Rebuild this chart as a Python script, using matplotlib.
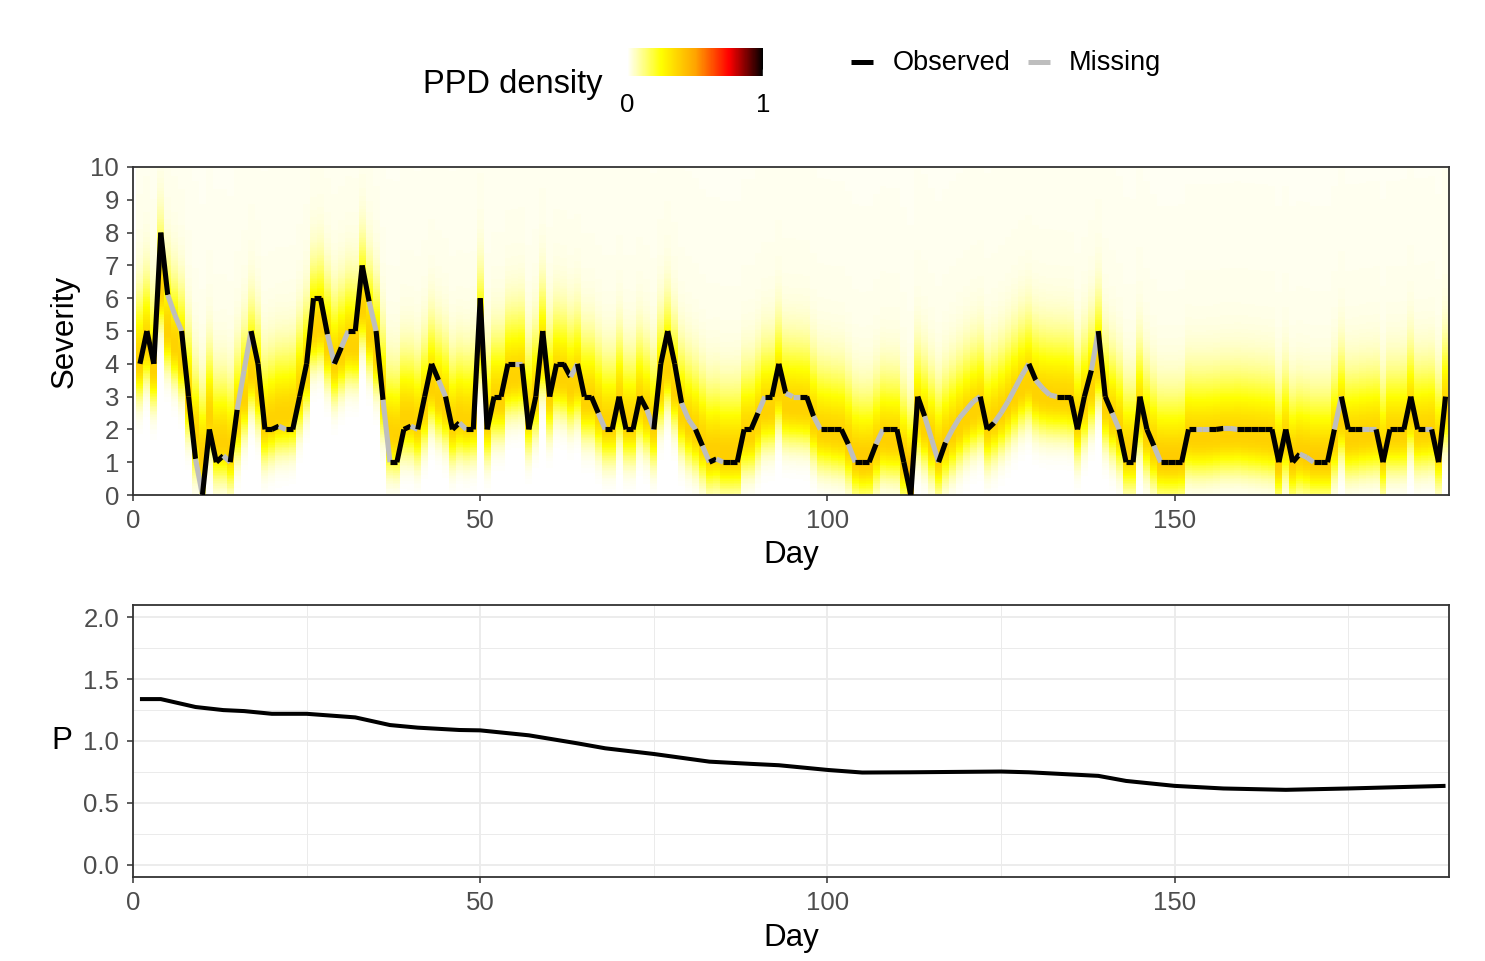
import numpy as np
import matplotlib
matplotlib.use("Agg")
import matplotlib.pyplot as plt
from matplotlib.colors import LinearSegmentedColormap, Normalize
from matplotlib.cm import ScalarMappable
from matplotlib.lines import Line2D
from matplotlib.collections import LineCollection
from matplotlib.ticker import MultipleLocator

plt.rcParams['font.family'] = ['Liberation Sans', 'DejaVu Sans']

# ---------------- data ----------------
days = np.arange(1, 190)
severity = [
    4, 5, 4, 8, 6.1, 5.5, 5, 3, 1.1, 0,
    2, 1, 1.2, 1, 2.6, 3.8, 5, 4, 2, 2,
    2.1, 2, 2, 3, 4, 6, 6, 4.9, 4, 4.5,
    5, 5, 7, 5.9, 5, 2.9, 1, 1, 2, 2.1,
    2, 3, 4, 3.5, 3, 2, 2.2, 2, 2, 6,
    2, 3, 3, 4, 4.0, 4, 2, 3, 5, 3,
    4, 4, 3.6, 4, 3, 3, 2.5, 2, 2, 3,
    2, 2, 3, 2.6, 2, 4, 5, 4, 2.8, 2.3,
    2, 1.5, 1, 1.1, 1, 1, 1, 2, 2, 2.5,
    3, 3, 4, 3.1, 3.0, 3, 3, 2.4, 2, 2,
    2, 2, 1.55, 1, 1, 1, 1.55, 2, 2, 2,
    1, 0, 3, 2.4, 1.7, 1, 1.6, 2.0, 2.35, 2.6,
    2.85, 3, 2, 2.2, 2.5, 2.85, 3.25, 3.65, 4, 3.5,
    3.25, 3.05, 3, 3, 3, 2, 3, 3.8, 5, 3,
    2.5, 2, 1, 1, 3, 2, 1.5, 1, 1, 1,
    1, 2, 2.0, 2.0, 2, 2, 2.03, 2.03, 2, 2,
    2, 2, 2, 2, 1, 2, 1, 1.25, 1.15, 1,
    1, 1, 2.0, 3, 2, 2, 2.0, 2.0, 2, 1,
    2, 2, 2, 3, 2, 2.0, 2, 1, 3,
]
observed = [
    1, 1, 1, 1, 0, 0, 1, 1, 0, 1,
    1, 1, 0, 1, 0, 0, 1, 1, 1, 1,
    0, 1, 1, 1, 1, 1, 1, 0, 1, 0,
    1, 1, 1, 0, 1, 0, 1, 1, 1, 0,
    1, 1, 1, 0, 1, 1, 0, 1, 1, 1,
    1, 1, 1, 1, 0, 1, 1, 1, 1, 1,
    1, 1, 0, 1, 1, 1, 0, 1, 1, 1,
    1, 1, 1, 0, 1, 1, 1, 1, 0, 0,
    1, 0, 1, 0, 1, 1, 1, 1, 1, 0,
    1, 1, 1, 0, 0, 1, 1, 0, 1, 1,
    1, 1, 0, 1, 1, 1, 0, 1, 1, 1,
    1, 1, 1, 0, 0, 1, 0, 0, 0, 0,
    0, 1, 1, 0, 0, 0, 0, 0, 1, 0,
    0, 0, 1, 1, 1, 1, 1, 0, 1, 1,
    0, 1, 1, 1, 1, 1, 0, 1, 1, 1,
    1, 1, 0, 0, 1, 1, 0, 0, 1, 1,
    1, 1, 1, 1, 1, 1, 1, 0, 0, 1,
    1, 1, 0, 1, 1, 1, 0, 0, 1, 1,
    1, 1, 1, 1, 1, 0, 1, 1, 1,
]
p_days = [1, 4, 9, 13, 16, 20, 25, 32, 37, 41, 47, 50, 57, 64, 68, 75, 83, 89,
          93, 100, 105, 112, 125, 129, 139, 143, 150, 157, 166, 175, 189]
p_values = [1.339, 1.339, 1.275, 1.25, 1.242, 1.22, 1.22, 1.191, 1.129, 1.108,
            1.089, 1.086, 1.046, 0.981, 0.941, 0.895, 0.833, 0.815, 0.804, 0.766,
            0.745, 0.747, 0.753, 0.747, 0.718, 0.677, 0.637, 0.616, 0.605, 0.616, 0.637]

sev = np.asarray(severity, dtype=float)
obs = np.asarray(observed, dtype=bool)

# ---------------- figure ----------------
W, H = 1485, 961
fig = plt.figure(figsize=(W / 100, H / 100), dpi=100)
ax1 = fig.add_axes([133 / W, 1 - 495 / H, (1449 - 133) / W, (495 - 167) / H])
ax2 = fig.add_axes([133 / W, 1 - 877 / H, (1449 - 133) / W, (877 - 605) / H])

cmap = LinearSegmentedColormap.from_list(
    "ppd", ["#FFFFFF", "#FFFF00", "#FFA500", "#FF0000", "#000000"])

# PPD density field (approximated from the series: predictive spread around a
# value shrunk toward the local level)
yy = np.linspace(0, 10, 201)
k = 7
padded = np.pad(sev, k, mode="edge")
local = np.convolve(padded, np.ones(2 * k + 1) / (2 * k + 1), mode="valid")
mu = 0.6 * sev + 0.4 * local - 0.25
s_lo, s_hi = 0.7, 1.3
z = yy[:, None] - mu[None, :]
core = np.where(z < 0, np.exp(-0.5 * (z / s_lo) ** 2), np.exp(-0.5 * (z / s_hi) ** 2))
core /= np.sqrt(2 * np.pi) * (s_lo + s_hi) / 2
mass = np.trapezoid(core, yy, axis=0)
core = core / mass
tail = 0.03 * np.exp(-np.clip(z, 0, None) / 12) / (1 + np.exp(-(z + 0.3) / 0.3))
dens = core * 0.88 + tail

xedges = np.arange(0.5, len(days) + 1.0, 1.0)
yedges = np.concatenate([[0], (yy[1:] + yy[:-1]) / 2, [10]])
ax1.pcolormesh(xedges, yedges, dens, cmap=cmap, vmin=0, vmax=1,
               shading="flat", rasterized=True, zorder=1)

# observed / missing path, segment coloured by its starting point
pts = np.column_stack([days, sev])
segs = np.stack([pts[:-1], pts[1:]], axis=1)
cols = ["#000000" if o else "#BEBEBE" for o in obs[:-1]]
lc = LineCollection(segs, colors=cols, linewidths=3.7, capstyle="butt", zorder=3)
ax1.add_collection(lc)

ax1.set_xlim(0, 189.5)
ax1.set_ylim(0, 10)
ax1.set_yticks(range(0, 11))
ax1.set_xticks([0, 50, 100, 150])

# bottom panel
ax2.plot(p_days, p_values, color="black", lw=2.9, solid_capstyle="butt", zorder=3)
ax2.set_xlim(0, 189.5)
ax2.set_ylim(-0.1, 2.1)
ax2.set_xticks([0, 50, 100, 150])
ax2.set_yticks([0, 0.5, 1.0, 1.5, 2.0])
ax2.set_yticklabels(["0.0", "0.5", "1.0", "1.5", "2.0"])
ax2.xaxis.set_minor_locator(MultipleLocator(25))
ax2.yaxis.set_minor_locator(MultipleLocator(0.25))
ax2.grid(which="major", color="#EBEBEB", lw=1.3, zorder=0)
ax2.grid(which="minor", color="#EBEBEB", lw=0.7, zorder=0)
ax2.set_axisbelow(True)

for ax in (ax1, ax2):
    for sp in ax.spines.values():
        sp.set_color("#333333")
        sp.set_linewidth(1.3)
    ax.tick_params(which="major", length=4, width=1.1, color="#333333",
                   labelcolor="#4D4D4D", labelsize=18.5, pad=6)
    ax.tick_params(which="minor", length=0)

fs_title = 22.5
fig.text(65 / W, 1 - 331 / H, "Severity", rotation=90, ha="center", va="center", fontsize=fs_title)
fig.text(791 / W, 1 - 555 / H, "Day", ha="center", va="center", fontsize=fs_title)
fig.text(791 / W, 1 - 938 / H, "Day", ha="center", va="center", fontsize=fs_title)
fig.text(62 / W, 1 - 741 / H, "P", ha="center", va="center", fontsize=fs_title)

# colourbar legend
cax = fig.add_axes([627 / W, 1 - 76 / H, 136 / W, 28 / H])
cb = fig.colorbar(ScalarMappable(norm=Normalize(0, 1), cmap=cmap), cax=cax,
                  orientation="horizontal", ticks=[0, 1])
cb.outline.set_visible(False)
cax.tick_params(direction="in", color="white", length=5, width=1,
                labelsize=18.5, labelcolor="black", pad=12)
fig.text(423 / W, 1 - 84 / H, "PPD density", ha="left", va="center", fontsize=23.5)

# line legend
fig.add_artist(Line2D([851 / W, 873 / W], [1 - 62 / H, 1 - 62 / H],
                      transform=fig.transFigure, color="black", lw=3.6, solid_capstyle="butt"))
fig.text(893 / W, 1 - 63 / H, "Observed", ha="left", va="center", fontsize=19.5)
fig.add_artist(Line2D([1028 / W, 1050 / W], [1 - 62 / H, 1 - 62 / H],
                      transform=fig.transFigure, color="#BEBEBE", lw=3.6, solid_capstyle="butt"))
fig.text(1069 / W, 1 - 63 / H, "Missing", ha="left", va="center", fontsize=19.5)

fig.savefig("out.png", dpi=100, facecolor="white")
